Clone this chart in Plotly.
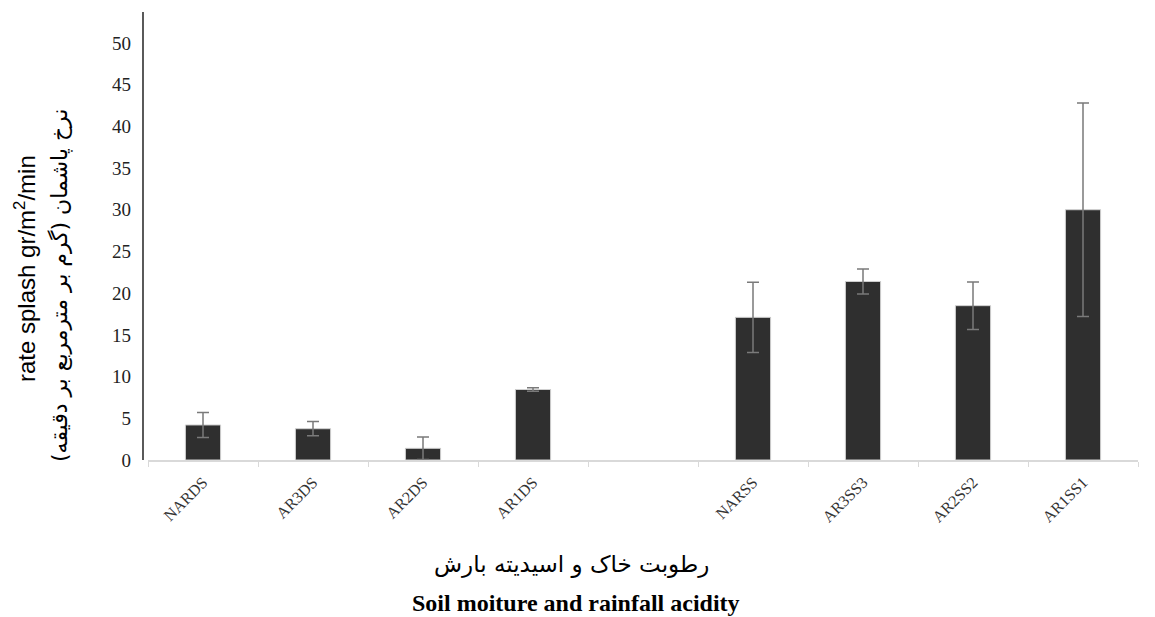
import plotly.graph_objects as go

categories = ["NARDS", "AR3DS", "AR2DS", "AR1DS", " ", "NARSS", "AR3SS3", "AR2SS2", "AR1SS1"]
values = [4.2, 3.75, 1.4, 8.45, None, 17.1, 21.4, 18.5, 30.0]
errors = [1.5, 0.85, 1.35, 0.2, None, 4.2, 1.5, 2.85, 12.8]
y_ticks = [0, 5, 10, 15, 20, 25, 30, 35, 40, 45, 50]

fig = go.Figure()
fig.add_trace(go.Bar(
    x=categories, y=values, width=0.32,
    marker=dict(color="#2f2f2f", line=dict(color="#d0d0d0", width=1)),
    error_y=dict(type="data", array=errors, symmetric=True,
                 color="#7a7a7a", thickness=1.5, width=6),
    showlegend=False,
))

W, H = 1155, 617
L, R, T, B = 148, 17, 12, 157
pw = W - L - R
ph = H - T - B

fig.update_layout(
    width=W, height=H,
    margin=dict(l=L, r=R, t=T, b=B),
    paper_bgcolor="white", plot_bgcolor="white",
    xaxis=dict(
        type="category", categoryorder="array", categoryarray=categories,
        showline=True, linecolor="#d9d9d9", linewidth=1.5,
        ticks="outside", tickson="boundaries", ticklen=5, tickcolor="#d9d9d9",
        tickangle=-45, ticklabelstandoff=5,
        tickfont=dict(family="Liberation Serif", size=16, color="#333333"),
        showgrid=False, zeroline=False,
    ),
    yaxis=dict(
        range=[0, 53.7], tickvals=y_ticks,
        showline=False, ticks="", showgrid=False, zeroline=False,
        tickfont=dict(family="Liberation Serif", size=19, color="#222222"),
        ticklabelstandoff=16,
    ),
    shapes=[dict(type="line", xref="paper", yref="paper",
                 x0=-5 / pw, x1=-5 / pw, y0=0, y1=1,
                 line=dict(color="black", width=1.3))],
    annotations=[
        dict(text="rate splash gr/m<sup>2</sup>/min", xref="paper", yref="paper",
             x=-(L - 25) / pw, y=(460 - 269) / ph, textangle=-90, showarrow=False,
             xanchor="center", yanchor="middle",
             font=dict(family="Liberation Sans", size=24, color="black")),
        dict(text="نرخ پاشمان (گرم بر مترمربع بر دقیقه)", xref="paper", yref="paper",
             x=-(L - 60) / pw, y=(460 - 286) / ph, textangle=-90, showarrow=False,
             xanchor="center", yanchor="middle",
             font=dict(family="DejaVu Sans", size=22, color="black")),
        dict(text="رطوبت خاک و اسیدیته بارش", xref="paper", yref="paper",
             x=(571 - L) / pw, y=-(564 - (H - B)) / ph, showarrow=False,
             xanchor="center", yanchor="middle",
             font=dict(family="DejaVu Sans", size=23, color="black")),
        dict(text="<b>Soil moiture and rainfall acidity</b>", xref="paper", yref="paper",
             x=(576 - L) / pw, y=-(603 - (H - B)) / ph, showarrow=False,
             xanchor="center", yanchor="middle",
             font=dict(family="Liberation Serif", size=24, color="black")),
    ],
)

fig.write_html("out.html")
